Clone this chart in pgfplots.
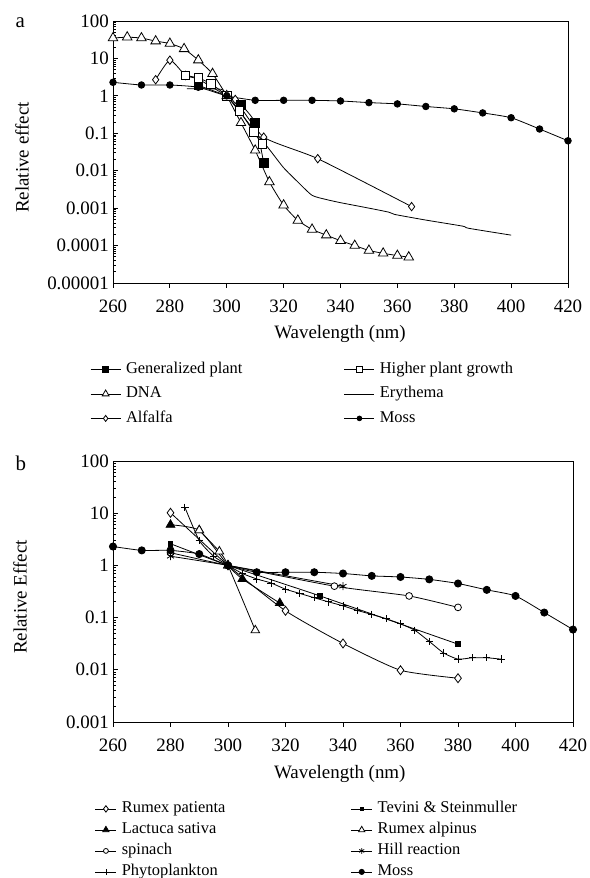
\documentclass[border=0pt]{standalone}
\usepackage{pgfplots}
\pgfplotsset{compat=1.18}
\usepackage{fontspec}
\setmainfont{Liberation Serif}
\pgfplotsset{
  every axis plot/.append style={line width=0.8bp, black, smooth, tension=0.35},
}
\begin{document}
\begin{tikzpicture}
\useasboundingbox (0,0) rectangle (590bp,878bp);
% ---------------- panel a ----------------
\begin{axis}[
  scale only axis,
  anchor=south west,
  at={(113bp,595bp)},
  width=455bp, height=262bp,
  ymode=log,
  xmin=260, xmax=420,
  xtick={260,280,300,320,340,360,380,400,420},
  xticklabels={260,280,300,320,340,360,380,400,420},
  ymin=1e-5, ymax=100,
  ytick={1e-5,1e-4,1e-3,1e-2,1e-1,1,10,100},
  yticklabels={0.00001,0.0001,0.001,0.01,0.1,1,10,100},
  tick pos=left,
  xtick align=outside,
  ytick align=inside,
  major tick length=5bp,
  minor tick num=0,
  axis line style={line width=0.9bp},
  tick style={line width=0.9bp, black},
  ticklabel style={font=\fontsize{19}{22}\selectfont},
  yticklabel style={inner sep=4bp},
  xticklabel style={yshift=-8bp},
  label style={font=\fontsize{19}{22}\selectfont},
  xlabel={Wavelength (nm)},
  ylabel={Relative effect},
  xlabel style={at={(axis description cs:0.499,-0.195)}, anchor=center},
  ylabel style={at={(axis description cs:-0.2,0.479)}, anchor=center},
  legend columns=2,
  legend cell align=left,
  legend image code/.code={
      \draw[mark repeat=2,mark phase=2,#1,/tikz/every mark/.append style={scale=0.72}]
      plot coordinates {(0bp,0bp) (15bp,0bp) (30bp,0bp)};},
  legend style={draw=none, fill=none,
    at={(axis description cs:-0.057,-0.289)}, anchor=north west,
    font=\fontsize{16.5}{19}\selectfont,
    row sep=7.5bp,
    nodes={inner sep=1bp, text height=11.5bp, text depth=3.5bp},
    /tikz/every odd column/.append style={column sep=4bp}},
]
% Alfalfa drawn first (its points at 285-290 lie under the squares)
\addplot[forget plot, mark=diamond*, mark size=4.2bp, mark options={fill=white}] coordinates {
(275,2.7) (280,9.0) (285.5,3.5) (290,2.8) (300,1.0) (303,0.8) (313,0.079)
(332,0.021) (365,0.0011)};
\addplot[mark=square*, mark size=4.3bp, mark options={fill=black}] coordinates {
(290,1.9) (300,1.0) (305,0.58) (310,0.19) (313,0.016)};
\addlegendentry{\makebox[217bp][l]{Generalized plant}}
\addplot[mark=square*, mark size=4.3bp, mark options={fill=white}] coordinates {
(285.5,3.5) (290,3.0) (294.5,2.1) (300,1.0) (304.5,0.40) (309.5,0.107) (312.5,0.052)};
\addlegendentry{Higher plant growth}
\addplot[mark=triangle*, mark size=5.5bp, mark options={fill=white}] coordinates {
(260,35) (265,37) (270,35) (275,29) (280,25) (285,18) (290,9) (295,3.9) (300,1.0)
(305,0.19) (310,0.035) (315,0.005) (320,0.0012) (325,0.00047) (330,0.00027)
(335,0.00019) (340,0.000135) (345,0.0001) (350,0.000074) (355,0.000062)
(360,0.000054) (364,0.000049)};
\addlegendentry{\makebox[217bp][l]{DNA}}
\addplot[no marks] coordinates {
(286,1.54) (298,1.5) (300,1.0) (305,0.34) (310,0.11) (315,0.037) (320,0.012)
(325,0.005) (330,0.0022) (335,0.0017) (340,0.0014) (350,0.001) (357,0.00078)
(359,0.00068) (370,0.00048) (383,0.00033) (385,0.00029) (400,0.00019)};
\addlegendentry{Erythema}
\addlegendimage{mark=diamond*, mark size=4.2bp, mark options={fill=white}, line width=0.8bp, black}
\addlegendentry{\makebox[217bp][l]{Alfalfa}}
\addplot[mark=*, mark size=3.3bp, mark options={fill=black}] coordinates {
(260,2.3) (270,1.95) (280,1.95) (290,1.7) (300,1.0) (310,0.76) (320,0.76)
(330,0.76) (340,0.73) (350,0.66) (360,0.61) (370,0.52) (380,0.45) (390,0.35)
(400,0.26) (410,0.13) (420,0.063)};
\addlegendentry{Moss}
\end{axis}
% ---------------- panel b ----------------
\begin{axis}[
  scale only axis,
  anchor=south west,
  at={(113bp,156bp)},
  width=460bp, height=261bp,
  ymode=log,
  xmin=260, xmax=420,
  xtick={260,280,300,320,340,360,380,400,420},
  xticklabels={260,280,300,320,340,360,380,400,420},
  ymin=1e-3, ymax=100,
  ytick={1e-3,1e-2,1e-1,1,10,100},
  yticklabels={0.001,0.01,0.1,1,10,100},
  tick pos=left,
  xtick align=outside,
  ytick align=inside,
  major tick length=5bp,
  minor tick num=0,
  axis line style={line width=0.9bp},
  tick style={line width=0.9bp, black},
  ticklabel style={font=\fontsize{19}{22}\selectfont},
  yticklabel style={inner sep=4bp},
  xticklabel style={yshift=-8bp},
  label style={font=\fontsize{19}{22}\selectfont},
  xlabel={Wavelength (nm)},
  ylabel={Relative Effect},
  xlabel style={at={(axis description cs:0.493,-0.198)}, anchor=center},
  ylabel style={at={(axis description cs:-0.202,0.479)}, anchor=center},
  legend columns=2,
  legend cell align=left,
  legend image code/.code={
      \draw[mark repeat=2,mark phase=2,#1,/tikz/every mark/.append style={scale=0.72}]
      plot coordinates {(0bp,0bp) (10.5bp,0bp) (21bp,0bp)};},
  legend style={draw=none, fill=none,
    at={(axis description cs:-0.046,-0.292)}, anchor=north west,
    font=\fontsize{16.5}{19}\selectfont,
    row sep=4bp,
    nodes={inner sep=1bp, text height=11.5bp, text depth=3.5bp},
    /tikz/every odd column/.append style={column sep=4bp}},
]
\addplot[mark=diamond*, mark size=4.5bp, mark options={fill=white}] coordinates {
(280,10.2) (300,1.0) (320,0.135) (340,0.032) (360,0.0098) (380,0.0069)};
\addlegendentry{\makebox[228bp][l]{Rumex patienta}}
\addplot[mark=square*, mark size=2.3bp, mark options={fill=black}] coordinates {
(280,2.6) (300,1.0) (332,0.26) (380,0.031)};
\addlegendentry{Tevini \& Steinmuller}
\addplot[mark=triangle*, mark size=5bp, mark options={fill=black}] coordinates {
(280,6.0) (290,4.7) (300,1.0) (305,0.55) (318,0.19)};
\addlegendentry{\makebox[228bp][l]{Lactuca sativa}}
\addplot[mark=triangle*, mark size=5bp, mark options={fill=white}] coordinates {
(290,4.7) (297,1.85) (300,1.0) (309.5,0.057)};
\addlegendentry{Rumex alpinus}
\addplot[mark=*, mark size=3.4bp, mark options={fill=white}] coordinates {
(280,1.75) (300,1.0) (337,0.40) (363,0.26) (380,0.157)};
\addlegendentry{\makebox[228bp][l]{spinach}}
\addplot[mark=asterisk, mark size=4bp] coordinates {
(280,1.5) (300,1.0) (340,0.40)};
\addlegendentry{Hill reaction}
\addplot[mark=+, mark size=3.7bp] coordinates {
(285,13) (290,3.0) (295,1.5) (300,1.0) (305,0.7) (310,0.55) (315,0.46) (320,0.35)
(325,0.29) (330,0.24) (335,0.2) (340,0.168) (345,0.137) (350,0.115) (355,0.095)
(360,0.076) (365,0.057) (370,0.035) (375,0.021) (380,0.016) (385,0.017)
(390,0.017) (395,0.016)};
\addlegendentry{\makebox[228bp][l]{Phytoplankton}}
\addplot[mark=*, mark size=3.6bp, mark options={fill=black}] coordinates {
(260,2.3) (270,1.94) (280,1.94) (290,1.65) (300,1.0) (310,0.74) (320,0.74)
(330,0.74) (340,0.70) (350,0.63) (360,0.60) (370,0.54) (380,0.45) (390,0.34)
(400,0.26) (410,0.125) (420,0.059)};
\addlegendentry{Moss}
\end{axis}
\node[font=\fontsize{21}{24}\selectfont, anchor=base west] at (12bp,850bp) {a};
\node[font=\fontsize{21}{24}\selectfont, anchor=base west] at (12bp,407bp) {b};
\end{tikzpicture}
\end{document}
